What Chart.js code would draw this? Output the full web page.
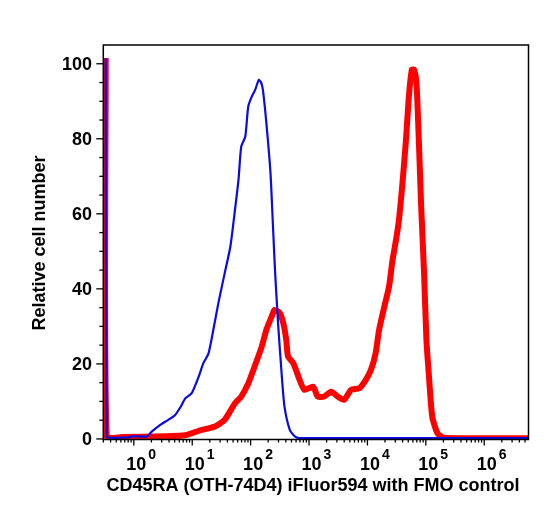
<!DOCTYPE html>
<html>
<head>
<meta charset="utf-8">
<script src="https://cdn.jsdelivr.net/npm/chart.js@4"></script>
<style>
  html, body { margin: 0; padding: 0; background: #fff; }
  #wrap { width: 549px; height: 511px; position: relative; }
</style>
</head>
<body>
<div id="wrap"><canvas id="c" width="549" height="511"></canvas></div>
<script>
// ---- Data (x = fluorescence intensity, y = relative cell number) ----
const blueX = [0.330, 0.343, 0.40, 0.79, 0.89, 1.7, 2.0, 2.8, 3.9, 5.1, 6.3, 7.6, 9.8, 12.9, 15.5, 19, 23, 28, 36, 45, 54, 62, 69, 81, 91, 105, 120, 138, 151, 162, 186, 219, 240, 263, 295, 339, 380, 468, 562, 646, 1000, 10000, 100000, 1000000, 5700000];
const blueY = [101.5, 0.6, 0.3, 0.4, 0.7, 0.7, 1.9, 3.7, 5.1, 6.4, 8.5, 10.8, 12.2, 16.6, 20.2, 22.8, 29.1, 36.2, 44.2, 51.3, 61.1, 69.1, 77.9, 80.6, 88.6, 91.3, 93.1, 95.7, 95.0, 93.1, 84.2, 70.8, 57.5, 44.2, 30.8, 17.5, 8.6, 2.4, 0.8, 0.3, 0.2, 0.2, 0.2, 0.2, 0.2];

const redX = [0.330, 0.343, 0.63, 3.5, 7.6, 14.5, 24.5, 36, 54, 69, 91, 117, 155, 186, 229, 257, 316, 363, 407, 437, 537, 692, 832, 1175, 1413, 1820, 2399, 3090, 3981, 5248, 7244, 9333, 11482, 13804, 15849, 19498, 23442, 26915, 30903, 34674, 39811, 45709, 51286, 57544, 63096, 69183, 75858, 83176, 93325, 102329, 112202, 128825, 158489, 204174, 1000000, 5700000];
const redY = [101.5, 0.6, 0.5, 0.7, 1.0, 2.4, 3.3, 5.1, 9.5, 11.3, 14.8, 19.3, 24.6, 29.1, 32.6, 34.4, 33.5, 30.8, 26.4, 22.0, 20.2, 15.7, 13.1, 13.9, 11.3, 11.3, 12.6, 11.3, 10.4, 13.1, 13.5, 15.7, 18.4, 22.8, 29.1, 35.3, 40.6, 47.7, 53.1, 58.4, 68.2, 79.7, 91.3, 98.4, 98.4, 94.9, 79.7, 62, 44.2, 26.4, 17.5, 5.9, 1.5, 0.3, 0.2, 0.2];

const xDecades = [0, 1, 2, 3, 4, 5, 6];           // tick labels 10^n
const yTicks = [0, 20, 40, 60, 80, 100];
const xTitle = 'CD45RA (OTH-74D4) iFluor594 with FMO control';
const yTitle = 'Relative cell number';

const FONT = '"Liberation Sans", Arial, Helvetica, sans-serif';

const toPts = (xs, ys) => xs.map((x, i) => ({ x: x, y: ys[i] }));

const axesPlugin = {
  id: 'flowAxes',
  afterDraw(chart) {
    const ctx = chart.ctx;
    const a = chart.chartArea;
    const xs = chart.scales.x, ys = chart.scales.y;
    ctx.save();
    ctx.strokeStyle = '#000';
    ctx.fillStyle = '#000';
    // frame
    ctx.lineWidth = 1.5;
    ctx.strokeRect(a.left, a.top, a.right - a.left, a.bottom - a.top);
    // x ticks
    ctx.lineWidth = 1.3;
    for (let d = -1; d <= 6; d++) {
      for (let m = 1; m <= 9; m++) {
        const v = m * Math.pow(10, d);
        if (v < xs.min || v > xs.max) continue;
        const px = xs.getPixelForValue(v);
        const len = (m === 1) ? 6 : 3;
        ctx.beginPath();
        ctx.moveTo(px, a.bottom);
        ctx.lineTo(px, a.bottom + len);
        ctx.stroke();
      }
    }
    // y ticks
    for (let v = 0; v <= 100; v += 5) {
      const py = ys.getPixelForValue(v);
      const len = (v % 20 === 0) ? 7 : 4;
      ctx.beginPath();
      ctx.moveTo(a.left - len, py);
      ctx.lineTo(a.left, py);
      ctx.stroke();
    }
    // y tick labels
    ctx.font = 'bold 18px ' + FONT;
    ctx.textAlign = 'right';
    ctx.textBaseline = 'alphabetic';
    yTicks.forEach(v => {
      const py = ys.getPixelForValue(v);
      ctx.fillText(String(v), 92, py + 6.5);
    });
    // x tick labels 10^n
    xDecades.forEach(n => {
      const px = xs.getPixelForValue(Math.pow(10, n));
      ctx.font = 'bold 18px ' + FONT;
      ctx.textAlign = 'center';
      const bw = ctx.measureText('10').width;
      ctx.fillText('10', px + 2.5, 470);
      ctx.font = 'bold 14px ' + FONT;
      ctx.textAlign = 'left';
      ctx.fillText(String(n), px + 2.5 + bw / 2 + 2, 458.5);
    });
    // titles
    ctx.font = 'bold 18px ' + FONT;
    ctx.textAlign = 'center';
    ctx.fillText(xTitle, 313, 491);
    ctx.translate(45, 243);
    ctx.rotate(-Math.PI / 2);
    ctx.fillText(yTitle, 0, 0);
    ctx.restore();
  }
};

new Chart(document.getElementById('c'), {
  type: 'line',
  data: {
    datasets: [
      { label: 'CD45RA', data: toPts(blueX, blueY), borderColor: 'rgb(10,10,225)', borderWidth: 2.2, pointRadius: 0, tension: 0.2, fill: false },
      { label: 'FMO', data: toPts(redX, redY), borderColor: 'rgb(255,0,0)', borderWidth: 6, pointRadius: 0, tension: 0.2, fill: false }
    ]
  },
  options: {
    responsive: false,
    animation: false,
    events: [],
    layout: { padding: { top: 45, right: 20.5, left: 0, bottom: 0 } },
    plugins: { legend: { display: false }, tooltip: { enabled: false } },
    scales: {
      x: {
        type: 'logarithmic', min: 0.328, max: 5.73e6,
        grid: { display: false }, border: { display: false },
        ticks: { display: false },
        afterFit(s) { s.height = 71.5; }
      },
      y: {
        type: 'linear', min: -0.15, max: 105,
        grid: { display: false }, border: { display: false },
        ticks: { display: false },
        afterFit(s) { s.width = 103.3; }
      }
    }
  },
  plugins: [axesPlugin]
});
</script>
</body>
</html>
